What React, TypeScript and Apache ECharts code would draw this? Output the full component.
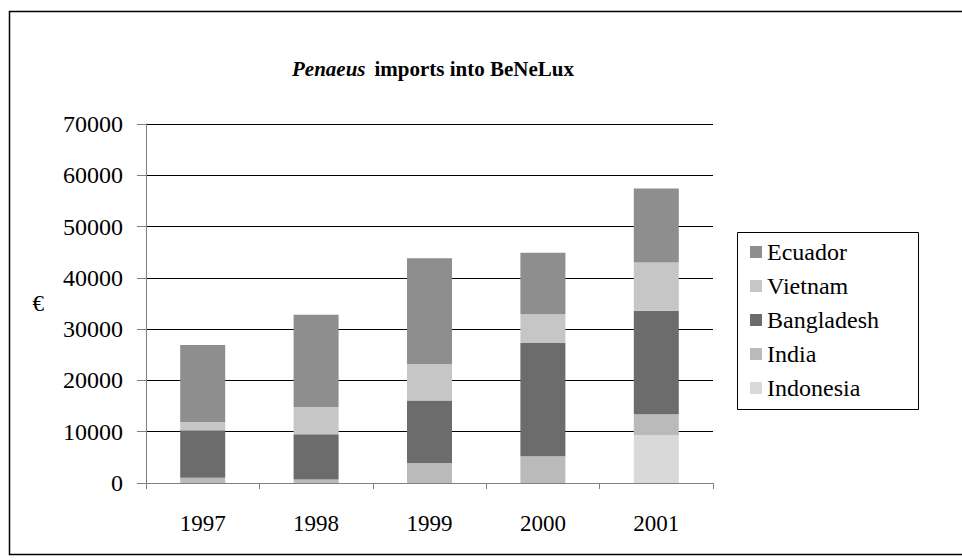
import React, { useEffect, useRef } from "react";
import * as echarts from "echarts";

const years = ["1997", "1998", "1999", "2000", "2001"];
const legendOrder = ["Ecuador", "Vietnam", "Bangladesh", "India", "Indonesia"];
const indonesia = [0, 0, 0, 0, 9300];
const india = [1000, 700, 3900, 5200, 4100];
const bangladesh = [9300, 8800, 12200, 22100, 20200];
const vietnam = [1600, 5300, 7100, 5600, 9400];
const ecuador = [15000, 18000, 20600, 12000, 14400];

const FONT = "Liberation Serif, Times New Roman, serif";

export default function App() {
  const ref = useRef<HTMLDivElement>(null);
  useEffect(() => {
    document.body.style.margin = "0";
    const chart = echarts.init(ref.current!, null, { renderer: "svg" });
    const mk = (name: string, data: number[], color: string) => ({
      name,
      type: "bar",
      stack: "total",
      data,
      barWidth: 45,
      itemStyle: { color },
    });
    chart.setOption({
      animation: false,
      backgroundColor: "#ffffff",
      textStyle: { fontFamily: FONT },
      title: {
        text: "{i|Penaeus}  {b|imports into BeNeLux}",
        left: 428,
        textAlign: "center",
        top: 53,
        textStyle: {
          rich: {
            i: { fontFamily: FONT, fontSize: 21, fontWeight: "bold", fontStyle: "italic", color: "#000" },
            b: { fontFamily: FONT, fontSize: 21, fontWeight: "bold", color: "#000" },
          },
        },
      },
      legend: {
        orient: "vertical",
        left: 745,
        top: 235,
        data: legendOrder,
        icon: "rect",
        itemWidth: 12,
        itemHeight: 12,
        itemGap: 10,
        textStyle: { fontFamily: FONT, fontSize: 24, color: "#000", lineHeight: 24 },
      },
      grid: { left: 146, right: 249, top: 124, bottom: 77, containLabel: false },
      xAxis: {
        type: "category",
        data: years,
        axisLine: { lineStyle: { color: "#808080", width: 1 } },
        axisTick: { show: true, alignWithLabel: false, length: 6, lineStyle: { color: "#808080" } },
        axisLabel: { fontFamily: FONT, fontSize: 23, color: "#000", margin: 29 },
      },
      yAxis: {
        type: "value",
        min: 0,
        max: 70000,
        interval: 10000,
        name: "€",
        nameLocation: "middle",
        nameRotate: 0,
        nameGap: 102,
        nameTextStyle: { fontFamily: FONT, fontSize: 23, color: "#000", padding: [0, 0, 40, 0] },
        axisLine: { show: true, lineStyle: { color: "#808080", width: 1 } },
        axisTick: { show: true, length: 9, lineStyle: { color: "#808080" } },
        axisLabel: { fontFamily: FONT, fontSize: 24, color: "#000", margin: 23, formatter: (v: number) => String(v) },
        splitLine: { show: true, lineStyle: { color: "#000", width: 1 } },
      },
      graphic: [
        {
          type: "rect",
          shape: { x: 9.5, y: 11.5, width: 960, height: 543 },
          style: { fill: "none", stroke: "#000", lineWidth: 1.5 },
          z: -1,
        },
        {
          type: "rect",
          shape: { x: 737.5, y: 232.5, width: 181, height: 177 },
          style: { fill: "none", stroke: "#000", lineWidth: 1 },
        },
      ],
      series: [
        mk("Indonesia", indonesia, "#d9d9d9"),
        mk("India", india, "#bababa"),
        mk("Bangladesh", bangladesh, "#6c6c6c"),
        mk("Vietnam", vietnam, "#c6c6c6"),
        mk("Ecuador", ecuador, "#8e8e8e"),
      ],
    });
    return () => chart.dispose();
  }, []);
  return <div ref={ref} style={{ position: "absolute", left: 0, top: 0, width: 962, height: 560 }} />;
}
